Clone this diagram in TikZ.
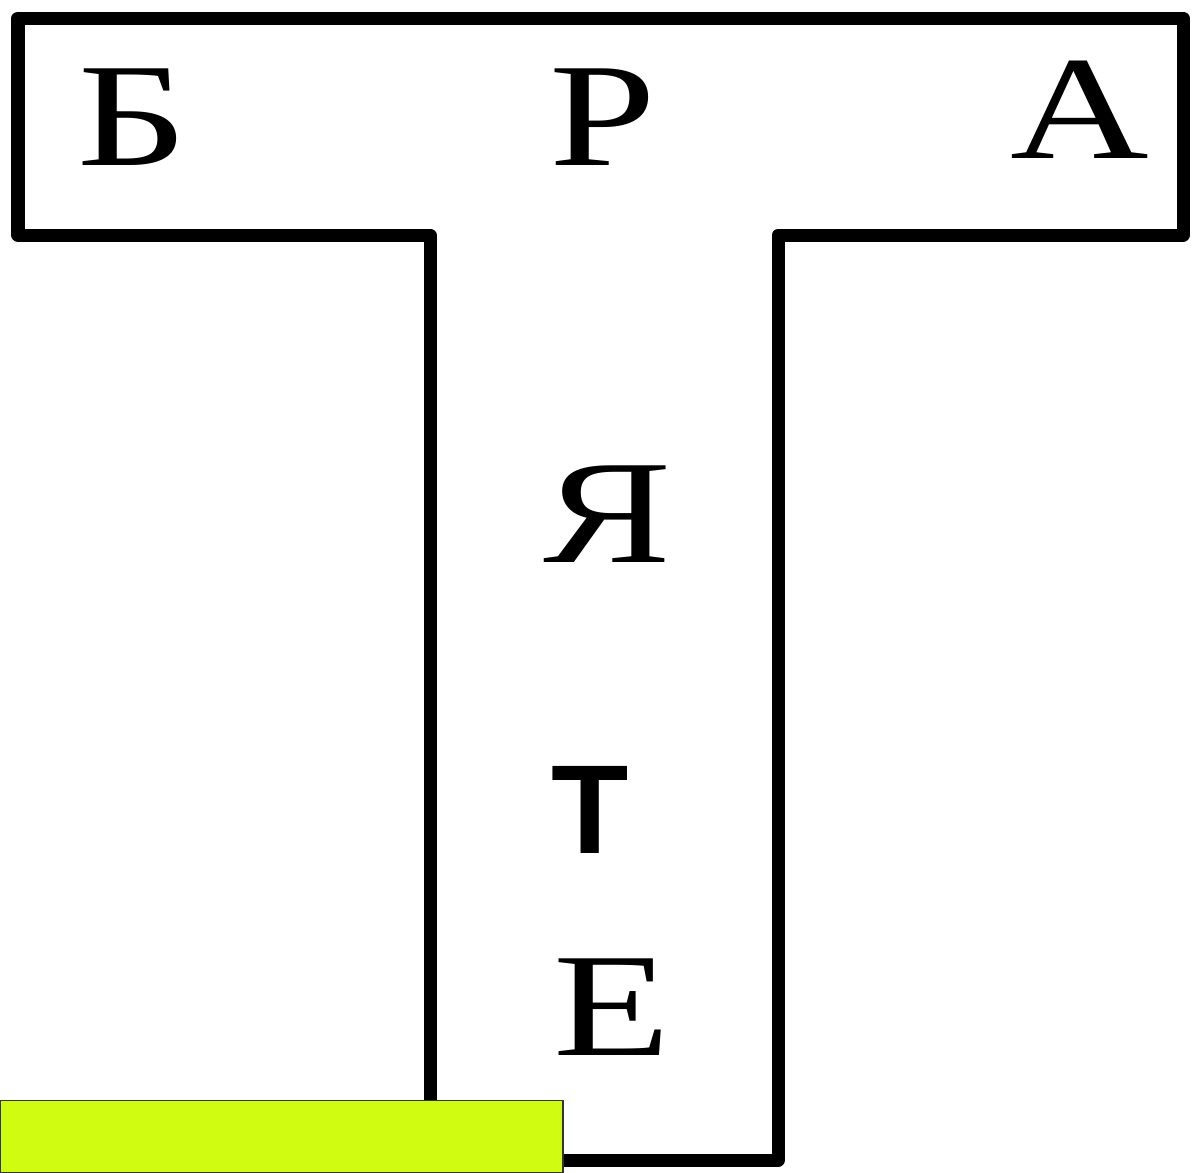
\documentclass[tikz,border=0pt]{standalone}
\usepackage{fontspec}
\setmainfont{Liberation Serif}
\newfontfamily\tsans{Liberation Sans}
\definecolor{lime}{RGB}{208,252,18}
\begin{document}
\begin{tikzpicture}[x=0.01cm,y=-0.01cm,
  letter/.style={anchor=base,inner sep=0pt,xscale=1.3,font=\fontsize{42pt}{42pt}\selectfont},
  sansletter/.style={anchor=base,inner sep=0pt,font=\tsans\bfseries\fontsize{36pt}{36pt}\selectfont},
  outline/.style={draw=black,line width=0.13cm,line join=round}]
\useasboundingbox (0,0) rectangle (1192,1172);
\draw[outline] (18,18) -- (1183,18) -- (1183,235) -- (778,235) -- (778,1160) -- (430,1160) -- (430,235) -- (18,235) -- cycle;
\node[letter] (b) at (133,165) {Б};
\node[letter] (r) at (603,165) {Р};
\node[letter] (a) at (1080,158) {А};
\node[letter] (ya) at (608,562) {Я};
\node[sansletter] (t) at (590,853) {Т};
\node[letter] (e) at (612,1055) {Е};
\node[draw=black!80,line width=0.4pt,fill=lime,anchor=north west,minimum width=5.62cm,minimum height=0.72cm,inner sep=0pt] (box) at (0,1100) {};
\end{tikzpicture}
\end{document}
